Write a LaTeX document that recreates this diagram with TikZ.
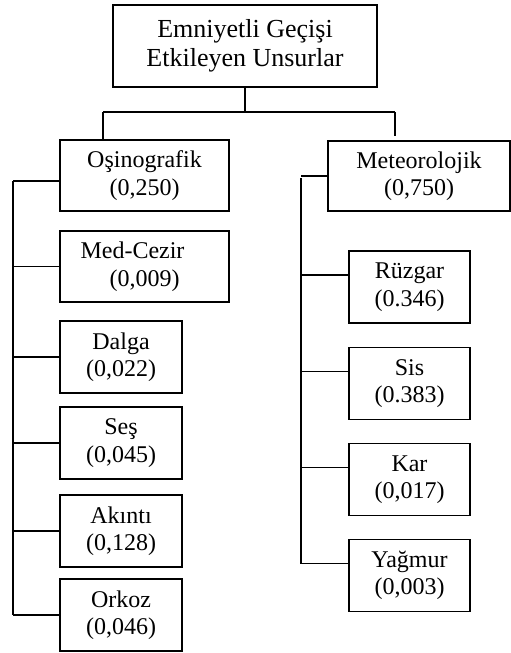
\documentclass[tikz,border=0pt]{standalone}
\usepackage{fontspec}
\setmainfont{Liberation Serif}
\usepackage{tikz}

\begin{document}
\begin{tikzpicture}[x=1pt, y=-1pt, line width=1.6pt,
        factor/.style={draw, align=center, inner sep=0pt, font=\fontsize{24}{27.5}\selectfont},
        smallfactor/.style={factor, minimum width=122pt, minimum height=72pt}]

        \useasboundingbox (0,0) rectangle (511,653);

        \node[draw, align=center, inner sep=0pt, minimum width=264pt, minimum height=82pt,
              font=\fontsize{26}{29}\selectfont] (goal) at (245,46) {Emniyetli Ge\c{c}i\c{s}i\\Etkileyen Unsurlar};

        \node[factor, minimum width=169pt, minimum height=71pt] (osin) at (144.5,175.5) {O\c{s}inografik\\(0,250)};
        \node[factor, minimum width=182pt, minimum height=70pt] (meteo) at (419,176) {Meteorolojik\\(0,750)};

        % oşinografik alt unsurlar
        \node[factor, minimum width=169pt, minimum height=71pt] (medcezir) at (144.5,266.5) {Med-Cezir\hspace*{24pt}\\(0,009)};
        \node[smallfactor] (dalga) at (121,357) {Dalga\\(0,022)};
        \node[smallfactor] (ses) at (121,443) {Se\c{s}\\(0,045)};
        \node[smallfactor] (akinti) at (121,531) {Ak\i nt\i\\(0,128)};
        \node[smallfactor] (orkoz) at (121,615) {Orkoz\\(0,046)};

        % meteorolojik alt unsurlar
        \node[smallfactor, minimum width=121pt] (ruzgar) at (409.5,287) {R\"uzgar\\(0.346)};
        \node[smallfactor, minimum width=121pt] (sis) at (409.5,383.5) {Sis\\(0.383)};
        \node[smallfactor, minimum width=121pt] (kar) at (409.5,479.5) {Kar\\(0,017)};
        \node[smallfactor, minimum width=121pt] (yagmur) at (409.5,575.5) {Ya\u{g}mur\\(0,003)};

        \coordinate (barL) at (103,112);
        \coordinate (barR) at (395,112);
        \coordinate (spineL) at (13,181);
        \coordinate (spineR) at (301,178);

        \draw (goal.south) -- (goal.south |- barL);
        \draw (barL) -- (barR);
        \draw (barL) -- (barL |- osin.north);
        \draw (barR) -- ([yshift=4pt]barR |- meteo.north);

        \draw (spineL) -- (spineL |- orkoz.west);
        \draw ([yshift=-5.5pt]osin.west) -- ([yshift=-5.5pt]osin.west -| spineL);
        \foreach \n in {medcezir, dalga, ses, akinti, orkoz}
            \draw (\n.west) -- (\n.west -| spineL);

        \draw (spineR) -- ([yshift=12pt]spineR |- yagmur.west);
        \draw (meteo.west) -- (meteo.west -| spineR);
        \foreach \n in {ruzgar, sis, kar, yagmur}
            \draw ([yshift=12pt]\n.west) -- ([yshift=12pt]\n.west -| spineR);
    \end{tikzpicture}
\end{document}
